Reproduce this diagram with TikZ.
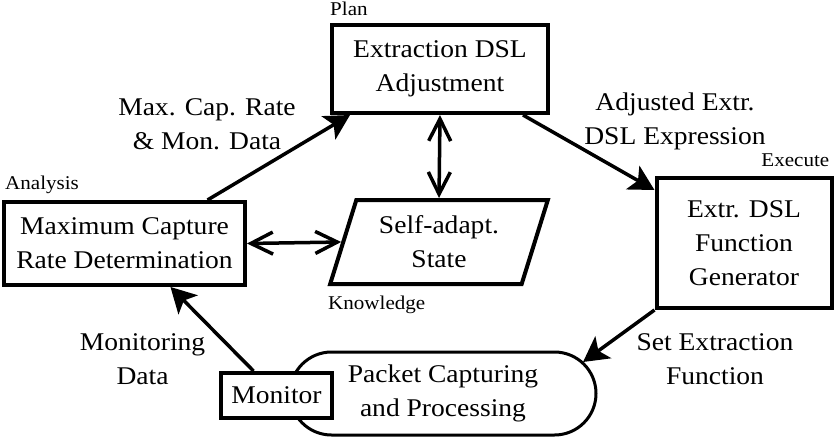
\documentclass[tikz,border=0pt]{standalone}
\usepackage{fontspec}
\setmainfont{Liberation Serif}[FakeStretch=1.08]
\usetikzlibrary{arrows.meta,shapes.geometric,shapes.misc,calc}

\tikzset{
  box/.style={draw, line width=4pt, fill=white, align=center, inner sep=0pt,
    font=\fontsize{25.5}{34}\selectfont},
  txt/.style={align=center, inner sep=0pt, font=\fontsize{25.5}{34}\selectfont},
  lab/.style={inner sep=0pt, font=\fontsize{19.5}{22}\selectfont},
  flow/.style={line width=3.5pt, -{Stealth[length=25pt,width=27pt,inset=6pt]}},
  both/.style={line width=3.5pt, {Straight Barb[length=22pt,width=22pt]}-{Straight Barb[length=22pt,width=22pt]}},
}

\begin{document}
\begin{tikzpicture}[x=1pt,y=-1pt]
\useasboundingbox (0,0) rectangle (835,437);

% MAPE-K stages
\node[box, minimum width=216pt, minimum height=88pt] (plan) at (440,69)
  {Extraction DSL\\Adjustment};
\node[box, minimum width=241pt, minimum height=83pt] (an) at (124.5,243.5)
  {Maximum Capture\\Rate Determination};
\node[box, minimum width=175pt, minimum height=130pt] (ex) at (744,243)
  {Extr. DSL\\Function\\Generator};
\node[box, trapezium, trapezium stretches=true, trapezium left angle=70,
  trapezium right angle=110, minimum width=218pt, minimum height=84pt] (ks) at (439,242)
  {Self-adapt.\\State};
\node[box, rounded rectangle, line width=3pt, minimum width=306pt, minimum height=83pt]
  (pc) at (443,393.5) {Packet Capturing\\and Processing};
\node[box, minimum width=111pt, minimum height=45pt] (mon) at (276.5,395.5) {Monitor};

% stage captions
\node[lab, anchor=base west] at ([shift={(0,-8)}]plan.north west) {Plan};
\node[lab, anchor=base west] at ([shift={(3,-11)}]an.north west) {Analysis};
\node[lab, anchor=base east] at ([shift={(-4,-10)}]ex.north east) {Execute};
\node[lab, anchor=base west] at ([shift={(-111,23)}]ks.south) {Knowledge};

% control loop
\draw[flow] ([xshift=83pt]an.north) -- ([xshift=-90pt]plan.south);
\draw[flow] ([xshift=83pt]plan.south) -- ([yshift=53pt]ex.west);
\draw[flow] (ex.south west) -- ($(pc.center)+(140,-31.5)$);
\draw[flow] ([xshift=-23pt]mon.north) -- ([xshift=46pt]an.south);

% knowledge access
\draw[both] (an.east) -- (ks.west);
\draw[both] (plan.south) -- (ks.north);

% connector labels
\node[txt] at (207,124) {Max. Cap. Rate\\\& Mon. Data};
\node[txt] at (675,121) {Adjusted Extr.\\DSL Expression};
\node[txt] at (142.5,359) {Monitoring\\Data};
\node[txt] at (715,359) {Set Extraction\\Function};
\end{tikzpicture}
\end{document}
